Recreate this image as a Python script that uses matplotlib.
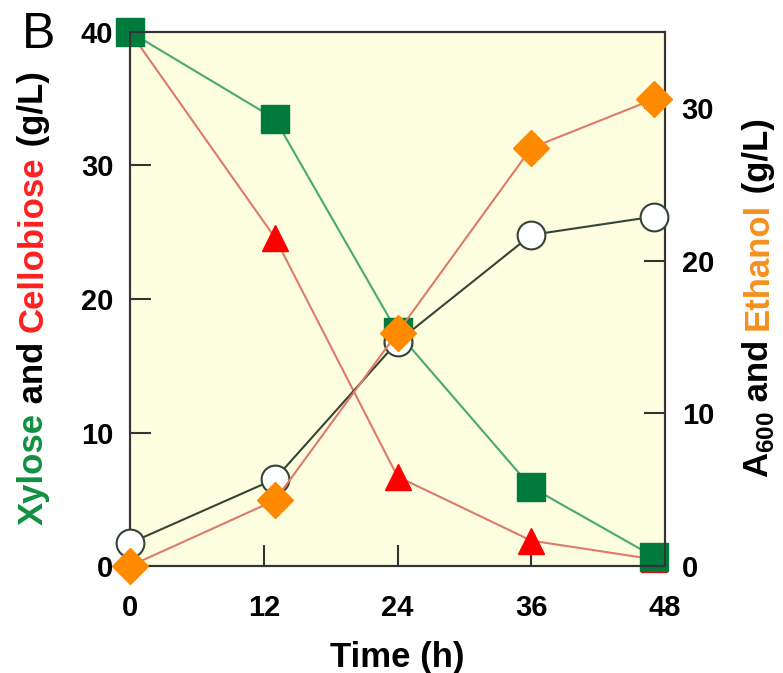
import matplotlib
matplotlib.use('Agg')
import matplotlib.pyplot as plt

# Sampling times (h)
time_h = [0, 13, 24, 36, 47]

# left axis (g/L)
xylose = [40.0, 33.5, 17.5, 5.9, 0.7]
cellobiose = [40.0, 24.6, 6.7, 1.9, 0.5]

# right axis
a600 = [1.5, 5.7, 14.7, 21.7, 22.9]
ethanol = [0.0, 4.3, 15.3, 27.4, 30.6]

x_ticks = [0, 12, 24, 36, 48]
left_ticks = [0, 10, 20, 30, 40]
right_ticks = [0, 10, 20, 30]

plt.rcParams['font.family'] = 'Liberation Sans'
plt.rcParams['font.weight'] = 'bold'
plt.rcParams['mathtext.fontset'] = 'custom'
plt.rcParams['mathtext.bf'] = 'Liberation Sans:bold'
plt.rcParams['mathtext.rm'] = 'Liberation Sans:bold'

W, H = 783, 673
fig = plt.figure(figsize=(W / 100, H / 100), dpi=100)
ax = fig.add_axes([130 / W, 1 - 566 / H, 535 / W, 534 / H])
ax.set_facecolor('#fdfde0')
ax2 = ax.twinx()

spine_c = '#333333'
for a in (ax, ax2):
    for s in a.spines.values():
        s.set_color(spine_c)
        s.set_linewidth(1.5)

# sugars on left axis
ax.plot(time_h, cellobiose, color='#de7a68', lw=1.5, marker='^', ms=19,
        mfc='#ff0000', mec='#ff0000', clip_on=False, zorder=3)
ax.plot(time_h, xylose, color='#4aa872', lw=1.5, marker='s', ms=20,
        mfc='#007a3d', mec='#007a3d', clip_on=False, zorder=4)

# growth and product on right axis
ax2.plot(time_h, a600, color='#364436', lw=1.5, marker='o', ms=20,
         mfc='white', mec='#364436', mew=1.5, clip_on=False, zorder=3)
ax2.plot(time_h, ethanol, color='#de7a68', lw=1.5, marker='D', ms=18.5,
         mfc='#ff8a00', mec='#ff8a00', clip_on=False, zorder=4)

ax.set_xlim(0, 48)
ax.set_ylim(0, 40)
ax2.set_ylim(0, 35)
ax.set_xticks(x_ticks)
ax.set_yticks(left_ticks)
ax2.set_yticks(right_ticks)

ax.tick_params(axis='y', direction='in', length=15, width=1.5, color=spine_c,
               labelsize=21, pad=12)
ax.tick_params(axis='x', direction='in', length=15, width=1.5, color=spine_c,
               labelsize=21, pad=20)
ax2.tick_params(axis='y', direction='in', length=15, width=1.5, color=spine_c,
                labelsize=21, pad=12)

ax.set_xlabel('Time (h)', fontsize=25, fontweight='bold', labelpad=14)

fig.text(22 / W, 1 - 48 / H, 'B', fontsize=36, fontweight='normal',
         ha='left', va='baseline')


def stacked_label(x_px, yc_px, pieces, size=25):
    # rotated label made of coloured parts sharing one baseline
    r = fig.canvas.get_renderer()
    texts = []
    for s, c in pieces:
        t = fig.text(x_px / W, 0, s, color=c, fontsize=size, fontweight='bold',
                     rotation=90, rotation_mode='anchor', ha='left',
                     va='baseline')
        texts.append(t)
    lens = [t.get_window_extent(r).height for t in texts]
    y = yc_px - sum(lens) / 2
    for t, l in zip(texts, lens):
        t.set_position((x_px / W, y / H))
        y += l


fig.canvas.draw()
# y measured from bottom in pixels
stacked_label(43, H - 298, [('Xylose', '#109040'), (' and ', 'black'),
                            ('Cellobiose', '#ff2020'), (' (g/L)', 'black')])
stacked_label(768, H - 298, [(r'A$_{\mathbf{600}}$', 'black'), (' and ', 'black'),
                             ('Ethanol', '#f5901e'), (' (g/L)', 'black')])

fig.savefig('out.png', dpi=100)
